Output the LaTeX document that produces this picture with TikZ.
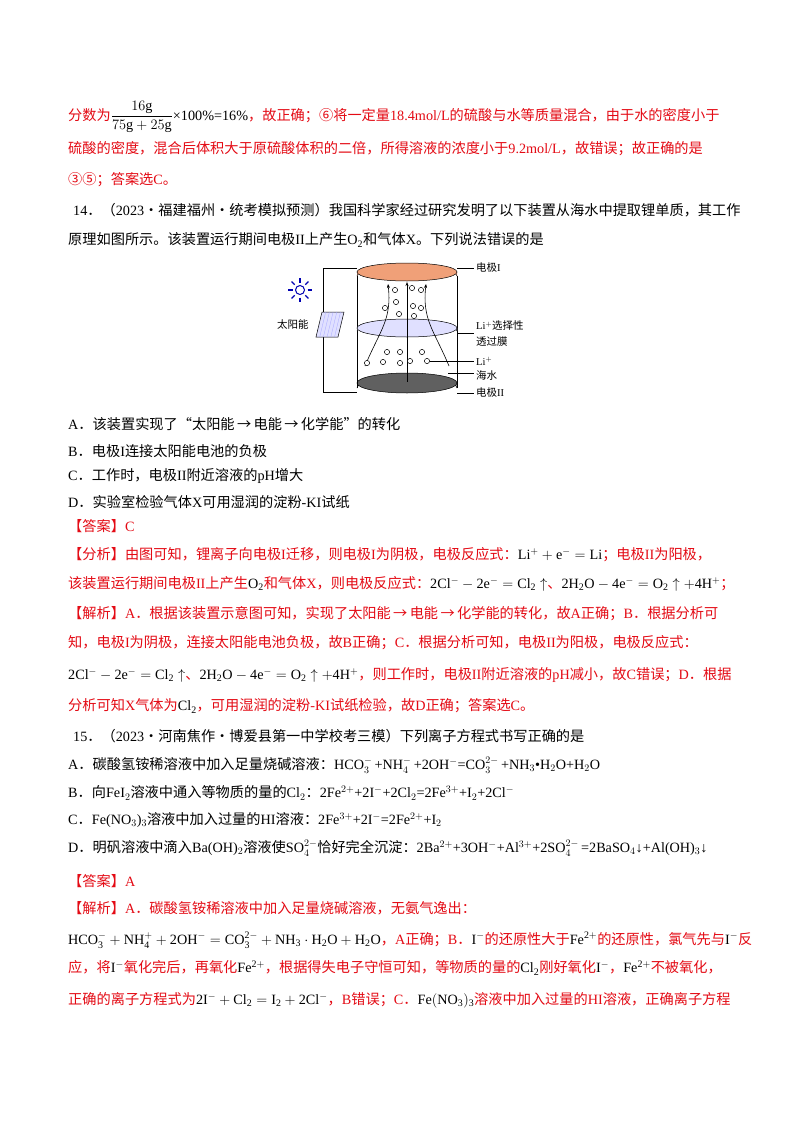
\documentclass[tikz,border=0pt]{standalone}
\usepackage{amsmath}
\usepackage{fontspec}
\setmainfont{Noto Sans CJK SC}
\newfontfamily\latf{Liberation Serif}
\setmathrm{Liberation Serif}
\newcommand{\lt}[1]{{\latf #1}}
\usetikzlibrary{arrows.meta,calc}
\definecolor{myred}{RGB}{228,10,20}
\newcommand{\fs}{\fontsize{14.2pt}{16pt}\selectfont}
\newcommand{\ls}{\fontsize{10.5pt}{12pt}\selectfont}
\newcommand{\bk}[1]{\textcolor{black}{#1}}
\begin{document}
\begin{tikzpicture}[x=1pt,y=-1pt,
 t/.style={anchor=west,inner sep=0,font=\fs},
 r/.style={t,text=myred},
 lab/.style={anchor=west,inner sep=0,font=\ls},
 bub/.style={draw,fill=white,line width=0.5pt},
 arr/.style={-{Stealth[length=4pt]},line width=0.6pt}]
\useasboundingbox[fill=white] (0,0) rectangle (800,1132);
\node[r] (l1) at (68,117) {分数为\bk{$\dfrac{16\mathrm{g}}{75\mathrm{g}+25\mathrm{g}}$\lt{×100\%=16\%}}，故正确；⑥将一定量\lt{18.4mol/L}的硫酸与水等质量混合，由于水的密度小于};
\node[r] (l2) at (68,149) {硫酸的密度，混合后体积大于原硫酸体积的二倍，所得溶液的浓度小于\lt{9.2mol/L}，故错误；故正确的是};
\node[r] (l3) at (68,180) {③⑤；答案选\lt{C}。};
\node[t] (l4) at (73,210) {\lt{14}．（\lt{2023}·福建福州·统考模拟预测）我国科学家经过研究发明了以下装置从海水中提取锂单质，其工作};
\node[t] (l5) at (68,240) {原理如图所示。该装置运行期间电极\lt{II}上产生$\mathrm{O_2}$和气体\lt{X}。下列说法错误的是};
% diagram
\draw[line width=0.7pt] (357,268) -- (323,268) -- (323,392) -- (357,392);
\draw[fill=blue!12,draw=black,line width=0.5pt] (316,337) -- (322,312) -- (344,312) -- (338,337) -- cycle;
\foreach \i in {1,...,5}{\draw[blue!35,line width=0.3pt] ($(316,337)+(\i*3.7,0)$) -- ++(6,-25);}
\node[lab] (sol) at (277,325) {太阳能};
\node[circle,draw=blue!70!black,line width=1pt,minimum size=9pt,inner sep=0] (sun) at (300,290) {};
\foreach \a in {0,45,...,315}{\draw[blue!70!black,line width=1.1pt] (sun.center) ++(\a:7.5) -- ++(\a:4.5);}
\fill[gray!55] (357,383) -- (357,388) arc[start angle=180,end angle=360,x radius=50,y radius=10] -- (457,383) -- cycle;
\draw[line width=0.5pt] (357,388) arc[start angle=180,end angle=360,x radius=50,y radius=10];
\draw[fill=gray!75!black,line width=0.5pt] (407,383) ellipse[x radius=50,y radius=10];
\draw[line width=0.6pt] (357,276) -- (357,388) (457,276) -- (457,388);
\fill[blue!10] (357,328) -- (357,331) arc[start angle=180,end angle=360,x radius=50,y radius=9] -- (457,328) -- cycle;
\draw[line width=0.5pt] (357,331) arc[start angle=180,end angle=360,x radius=50,y radius=9];
\draw[fill=blue!12,line width=0.5pt] (407,328) ellipse[x radius=50,y radius=9];
\fill[orange!55!red!45] (357,272) -- (357,276) arc[start angle=180,end angle=360,x radius=50,y radius=9] -- (457,272) -- cycle;
\draw[line width=0.5pt] (357,276) arc[start angle=180,end angle=360,x radius=50,y radius=9];
\draw[fill={rgb,255:red,240;green,160;blue,120},line width=0.5pt] (407,272) ellipse[x radius=50,y radius=9];
\draw[arr] (407,382) -- (407,282);
\draw[arr] (365,366) .. controls (380,330) and (392,320) .. (388,284);
\draw[arr] (449,366) .. controls (434,330) and (422,320) .. (426,284);
\foreach \x/\y in {395/290,396/302,385/308,399/314,413/306,421/308,414/316,421/290,412/288,387/352,367/363,383/362,400/352,400/363,410/361,422/352,427/361}{\draw[bub] (\x,\y) circle[radius=2.6];}
\draw[line width=0.4pt] (457,268) -- (474,268);
\draw[line width=0.4pt] (457,333) -- (474,333);
\draw[line width=0.4pt] (430,361) -- (474,361);
\draw[line width=0.4pt] (448,373) -- (474,373);
\draw[line width=0.4pt] (457,393) -- (474,393);
\node[lab] (e1) at (476,268) {电极\lt{I}};
\node[lab] (m1) at (476,326) {\lt{Li$^+$}选择性};
\node[lab] (m2) at (476,342) {透过膜};
\node[lab] (li) at (476,361) {\lt{Li$^+$}};
\node[lab] (sea) at (476,376) {海水};
\node[lab] (e2) at (476,393) {电极\lt{II}};
% options
\node[t] (a) at (68,424) {\lt{A}．该装置实现了“太阳能\,→\,电能\,→\,化学能”的转化};
\node[t] (b) at (68,451) {\lt{B}．电极\lt{I}连接太阳能电池的负极};
\node[t] (c) at (68,476) {\lt{C}．工作时，电极\lt{II}附近溶液的\lt{pH}增大};
\node[t] (d) at (68,502) {\lt{D}．实验室检验气体\lt{X}可用湿润的淀粉\lt{-KI}试纸};
\node[r] (ans) at (68,526) {【答案】\lt{C}};
\node[r] (f1) at (68,555) {【分析】由图可知，锂离子向电极\lt{I}迁移，则电极\lt{I}为阴极，电极反应式：\bk{$\mathrm{Li^++e^-=Li}$}；电极\lt{II}为阳极，};
\node[r] (f2) at (68,584) {该装置运行期间电极\lt{II}上产生\bk{$\mathrm{O_2}$}和气体\lt{X}，则电极反应式：\bk{$\mathrm{2Cl^--2e^-=Cl_2\uparrow}$}、\bk{$\mathrm{2H_2O-4e^-=O_2\uparrow+4H^+}$}；};
\node[r] (j1) at (68,614) {【解析】\lt{A}．根据该装置示意图可知，实现了太阳能\,→\,电能\,→\,化学能的转化，故\lt{A}正确；\lt{B}．根据分析可};
\node[r] (j2) at (68,643) {知，电极\lt{I}为阴极，连接太阳能电池负极，故\lt{B}正确；\lt{C}．根据分析可知，电极\lt{II}为阳极，电极反应式：};
\node[r] (j3) at (68,675) {\bk{$\mathrm{2Cl^--2e^-=Cl_2\uparrow}$}、\bk{$\mathrm{2H_2O-4e^-=O_2\uparrow+4H^+}$}，则工作时，电极\lt{II}附近溶液的\lt{pH}减小，故\lt{C}错误；\lt{D}．根据};
\node[r] (j4) at (68,706) {分析可知\lt{X}气体为\bk{$\mathrm{Cl_2}$}，可用湿润的淀粉\lt{-KI}试纸检验，故\lt{D}正确；答案选\lt{C}。};
\node[t] (q15) at (73,736) {\lt{15}．（\lt{2023}·河南焦作·博爱县第一中学校考三模）下列离子方程式书写正确的是};
\node[t] (qa) at (68,765) {\lt{A}．碳酸氢铵稀溶液中加入足量烧碱溶液：\lt{HCO$_3^-$\,+NH$_4^-$\,+2OH$^-$=CO$_3^{2-}$\,+NH$_3$•H$_2$O+H$_2$O}};
\node[t] (qb) at (68,793) {\lt{B}．向\lt{FeI$_2$}溶液中通入等物质的量的\lt{Cl$_2$}：\lt{2Fe$^{2+}$+2I$^-$+2Cl$_2$=2Fe$^{3+}$+I$_2$+2Cl$^-$}};
\node[t] (qc) at (68,820) {\lt{C}．\lt{Fe(NO$_3$)$_3$}溶液中加入过量的\lt{HI}溶液：\lt{2Fe$^{3+}$+2I$^-$=2Fe$^{2+}$+I$_2$}};
\node[t] (qd) at (68,848) {\lt{D}．明矾溶液中滴入\lt{Ba(OH)$_2$}溶液使\lt{SO$_4^{2-}$}恰好完全沉淀：\lt{2Ba$^{2+}$+3OH$^-$+Al$^{3+}$+2SO$_4^{2-}$\,=2BaSO$_4$↓+Al(OH)$_3$↓}};
\node[r] (ans2) at (68,881) {【答案】\lt{A}};
\node[r] (k1) at (68,908) {【解析】\lt{A}．碳酸氢铵稀溶液中加入足量烧碱溶液，无氨气逸出：};
\node[r] (k2) at (68,940) {\bk{$\mathrm{HCO_3^-+NH_4^++2OH^-=CO_3^{2-}+NH_3\cdot H_2O+H_2O}$}，\lt{A}正确；\lt{B}．\bk{$\mathrm{I^-}$}的还原性大于\bk{$\mathrm{Fe^{2+}}$}的还原性，氯气先与\bk{$\mathrm{I^-}$}反};
\node[r] (k3) at (68,968) {应，将\bk{$\mathrm{I^-}$}氧化完后，再氧化\bk{$\mathrm{Fe^{2+}}$}，根据得失电子守恒可知，等物质的量的\bk{$\mathrm{Cl_2}$}刚好氧化\bk{$\mathrm{I^-}$}，\bk{$\mathrm{Fe^{2+}}$}不被氧化，};
\node[r] (k4) at (68,1000) {正确的离子方程式为\bk{$\mathrm{2I^-+Cl_2=I_2+2Cl^-}$}，\lt{B}错误；\lt{C}．\bk{$\mathrm{Fe(NO_3)_3}$}溶液中加入过量的\lt{HI}溶液，正确离子方程};
\end{tikzpicture}
\end{document}
